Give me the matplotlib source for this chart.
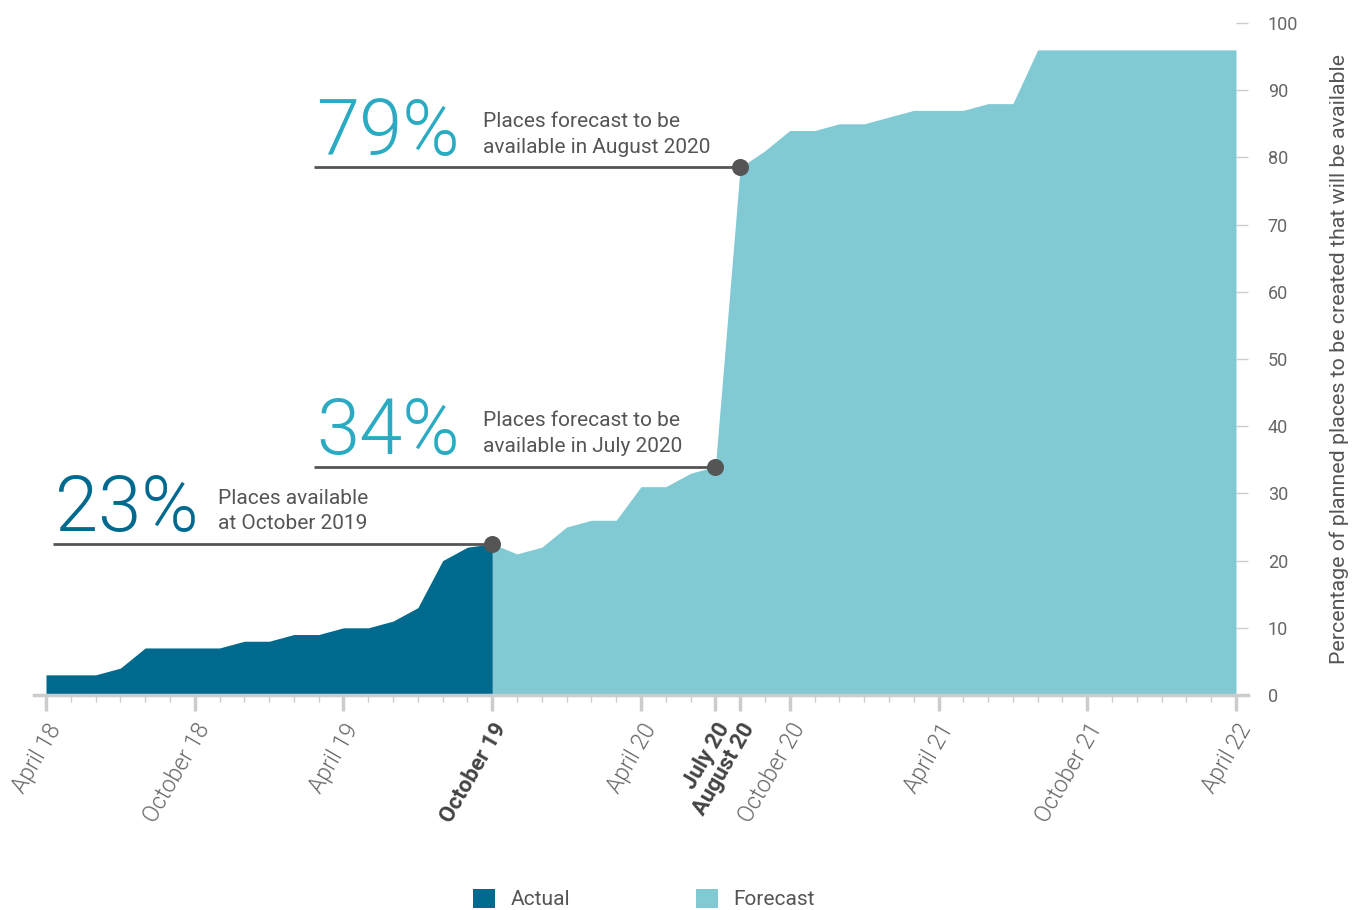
import matplotlib
matplotlib.use("Agg")
import matplotlib.pyplot as plt
from matplotlib.patches import Patch
import numpy as np

plt.rcParams['font.family'] = ['Roboto', 'DejaVu Sans']

# ---- data ----
actual_idx = list(range(0, 19))
actual = [3, 3, 3, 4, 7, 7, 7, 7, 8, 8, 9, 9, 10, 10, 11, 13, 20, 22, 22.5]
forecast_idx = list(range(18, 49))
forecast = [22.5, 21, 22, 25, 26, 26, 31, 31, 33, 34,
            78.5, 81, 84, 84, 85, 85, 86, 87, 87, 87, 88, 88,
            96, 96, 96, 96, 96, 96, 96, 96, 96]

major_pos = [0, 6, 12, 18, 24, 27, 28, 30, 36, 42, 48]
major_labels = ["April 18", "October 18", "April 19", "October 19", "April 20",
                "July 20", "August 20", "October 20", "April 21", "October 21", "April 22"]
bold_labels = ["October 19", "July 20", "August 20"]
yticks = [0, 10, 20, 30, 40, 50, 60, 70, 80, 90, 100]

ann_idx = [18, 27, 28]
ann_big = ["23%", "34%", "79%"]
ann_small = ["Places available\nat October 2019",
             "Places forecast to be\navailable in July 2020",
             "Places forecast to be\navailable in August 2020"]

C_ACT = "#006a8e"
C_FC = "#81cad4"
C_BIG2 = "#2aabc1"
C_GRAY = "#555555"
C_AX = "#cccccc"

fig = plt.figure(figsize=(13.64, 9.10), dpi=100)
W, H = 1364, 910
x0_px, x1_px = 33.6, 1248.4
y0_px, y1_px = 695, 23
ax = fig.add_axes([x0_px / W, 1 - y0_px / H, (x1_px - x0_px) / W, (y0_px - y1_px) / H])

ax.fill_between(forecast_idx, 0, forecast, color=C_FC, linewidth=0, zorder=1)
ax.fill_between(actual_idx, 0, actual, color=C_ACT, linewidth=0, zorder=2)

ax.set_xlim(-0.5, 48.5)
ax.set_ylim(0, 100)

for s in ["top", "left", "right"]:
    ax.spines[s].set_visible(False)
ax.spines["bottom"].set_color(C_AX)
ax.spines["bottom"].set_linewidth(2.5)

ax.set_xticks(major_pos)
ax.set_xticklabels(major_labels)
ax.set_xticks(range(0, 49), minor=True)
ax.tick_params(axis='x', which='major', length=11.5, width=2.5, color=C_AX, pad=6)
ax.tick_params(axis='x', which='minor', length=5, width=1, color=C_AX)
for lab in ax.get_xticklabels():
    lab.set_rotation(60)
    lab.set_ha('right')
    lab.set_va('top')
    lab.set_rotation_mode('anchor')
    lab.set_fontsize(16.5)
    if lab.get_text() in bold_labels:
        lab.set_fontweight('bold')
        lab.set_color('#444444')
        lab.set_fontsize(16)
    else:
        lab.set_fontweight(300)
        lab.set_color('#666666')

ax.yaxis.tick_right()
ax.set_yticks(yticks)
ax.set_yticklabels([str(v) for v in yticks])
ax.tick_params(axis='y', which='major', direction='in', length=8.6, width=1,
               color=C_AX, pad=14, labelsize=13, labelcolor='#666666')
ax.yaxis.set_label_position('right')
ax.set_ylabel("Percentage of planned places to be created that will be available",
              fontsize=15.4, color=C_GRAY, rotation=90)
ax.yaxis.set_label_coords(1.0665, 0.5)

# annotations
line_start = [0.28, 10.8, 10.8]
big_x = [0.36, 10.9, 10.9]
small_x = [6.94, 17.63, 17.63]
big_col = [C_ACT, C_BIG2, C_BIG2]
series = dict(zip(actual_idx, actual))
fser = dict(zip(forecast_idx, forecast))
for i, idx in enumerate(ann_idx):
    yv = fser[idx] if idx != 18 else series[idx]
    ax.plot([line_start[i], idx], [yv, yv], color=C_GRAY, lw=2, zorder=4,
            solid_capstyle='butt')
    ax.scatter([idx], [yv], s=150, color=C_GRAY, zorder=5, linewidths=0)
    ax.text(big_x[i], yv + 1.9, ann_big[i], fontsize=56, fontweight=300,
            color=big_col[i], va='baseline', ha='left', zorder=6)
    ax.text(small_x[i], yv + 1.6, ann_small[i], fontsize=15, color=C_GRAY,
            va='bottom', ha='left', linespacing=1.42, zorder=6)

handles = [Patch(facecolor=C_ACT, edgecolor='none', label='Actual'),
           Patch(facecolor=C_FC, edgecolor='none', label='Forecast')]
fig.legend(handles=handles, loc='center', bbox_to_anchor=(644 / W, 1 - 899 / H),
           ncol=2, frameon=False, fontsize=15, handlelength=1.06, handleheight=1.06,
           handletextpad=0.75, columnspacing=6.0, labelcolor=C_GRAY)

fig.savefig("out.png", dpi=100)
